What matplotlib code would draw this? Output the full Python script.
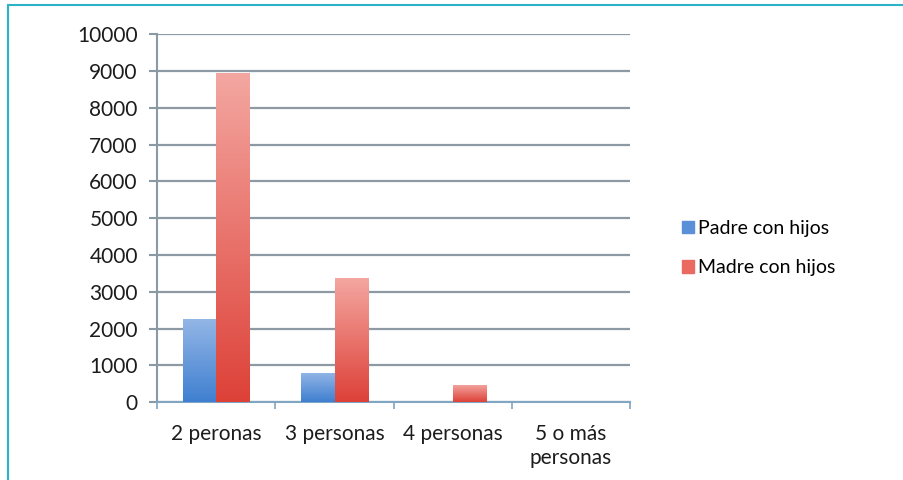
import numpy as np
import matplotlib.pyplot as plt
from matplotlib.colors import LinearSegmentedColormap
from matplotlib.patches import Rectangle, Patch

categories = ['2 peronas', '3 personas', '4 personas', '5 o más\npersonas']
padre = [2250, 800, 0, 0]
madre = [8950, 3370, 470, 0]
series_names = ['Padre con hijos', 'Madre con hijos']

plt.rcParams['font.family'] = ['Lato', 'DejaVu Sans']

fig = plt.figure(figsize=(9.04, 4.8), dpi=100)
ax = fig.add_axes([0.174, 0.162, 0.523, 0.767])

x = np.arange(len(categories))
w = 0.28
blue_cm = LinearSegmentedColormap.from_list('b', ['#3f7fd0', '#93b6e6'])
red_cm = LinearSegmentedColormap.from_list('r', ['#dd4138', '#f4a7a1'])

grad = np.linspace(0, 1, 256).reshape(-1, 1)
for vals, off, cm in [(padre, -w / 2, blue_cm), (madre, w / 2, red_cm)]:
    bars = ax.bar(x + off, vals, w, color=cm(0.5), zorder=3)
    for b in bars:
        h = b.get_height()
        if h <= 0:
            continue
        im = ax.imshow(grad, cmap=cm, origin='lower', aspect='auto',
                       extent=[b.get_x(), b.get_x() + b.get_width(), 0, h],
                       zorder=3)
        im.set_clip_path(b)

ax.set_xlim(-0.5, len(categories) - 0.5)
ax.set_ylim(0, 10000)
ax.set_yticks(np.arange(0, 10001, 1000))
ax.set_xticks(x)
ax.set_xticklabels(categories, fontsize=15, color='#1c1c1c')
ax.set_xticks(np.arange(-0.5, len(categories), 1), minor=True)
ax.tick_params(axis='x', which='major', length=0, pad=16)
ax.tick_params(axis='x', which='minor', length=5, color='#7fa6c2', width=1.2)
ax.tick_params(axis='y', length=6, color='#8a9aa5', width=1.5, labelsize=15,
               labelcolor='#1c1c1c', pad=8)
ax.yaxis.grid(True, color='#8d99a3', linewidth=1.6, zorder=0)
ax.set_axisbelow(True)
for s in ['top', 'right']:
    ax.spines[s].set_visible(False)
ax.spines['left'].set_color('#8a9aa5')
ax.spines['left'].set_linewidth(1.5)
ax.spines['bottom'].set_color('#7fa6c2')
ax.spines['bottom'].set_linewidth(1.5)

handles = [Patch(color='#5b8fd8'), Patch(color='#ea6a62')]
fig.legend(handles, series_names, loc='upper left', bbox_to_anchor=(0.735, 0.578),
           frameon=False, fontsize=14, handlelength=0.6, handleheight=0.6,
           handletextpad=0.25, labelspacing=1.15)

fig.patches.append(Rectangle((8 / 904, -0.1), 1.2, (480 - 5) / 480 + 0.1,
                             transform=fig.transFigure, fill=False,
                             edgecolor='#2bb3c8', linewidth=1.5))

fig.savefig('out.png', dpi=100)
